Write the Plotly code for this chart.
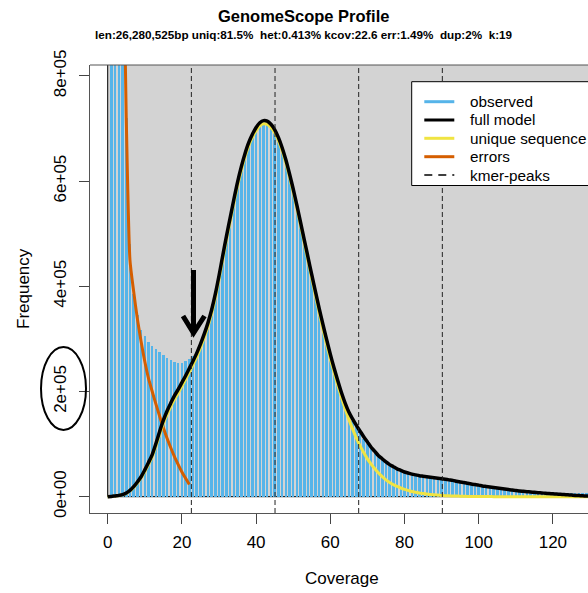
import plotly.graph_objects as go

# ---------------- data ----------------
coverage = list(range(1, 130))
observed = [2600000, 1900000, 1400000, 1000000, 720000, 480000, 385000, 345000, 317000, 305000,
            295000, 287000, 281000, 276000, 269000, 264000, 260000, 257000, 255000, 255000,
            258000, 262000, 268000, 276000, 291000, 309000, 330000, 354000, 383000, 417000,
            455000, 492000, 527000, 561000, 594000, 623000, 648000, 669000, 685000, 698000,
            706000, 710000, 709000, 703000, 693000, 678000, 659000, 636000, 609000, 580000,
            549000, 516000, 483000, 450000, 417000, 385000, 353000, 323000, 294000, 266000,
            241000, 217000, 195000, 175000, 158000, 144000, 132000, 121000, 110000, 100000,
            91000, 83000, 76000, 70000, 64000, 59000, 55000, 51000, 48000, 45000,
            43000, 41000, 40000, 38500, 37500, 36500, 35500, 34500, 33500, 32500,
            31500, 30500, 29500, 28500, 27000, 26000, 25000, 24000, 23000, 22000,
            21000, 20000, 19000, 18000, 17000, 16500, 15500, 14500, 14000, 13000,
            12500, 12000, 11500, 11000, 10500, 10000, 9500, 9000, 8500, 8000,
            7800, 7600, 7400, 7200, 7000, 6800, 6600, 6400, 6200]

model_x = list(range(0, 131))
full_model = [0, 500, 1500, 2500, 4000, 7000, 12000, 19000, 28000, 38000,
              51000, 65000, 80000, 101000, 124000, 145000, 163000, 178000, 192000, 204000,
              217000, 230000, 244000, 258000, 273000, 290000, 309000, 330000, 355000, 385000,
              420000, 458000, 495000, 530000, 565000, 598000, 627000, 652000, 673000, 689000,
              702000, 711000, 715000, 714000, 708000, 698000, 683000, 664000, 641000, 614000,
              585000, 554000, 521000, 488000, 455000, 422000, 390000, 358000, 328000, 299000,
              271000, 245000, 221000, 198000, 178000, 161000, 148000, 136000, 125000, 114000,
              104000, 94000, 86000, 78000, 72000, 66000, 61000, 57000, 53000, 50000,
              47000, 45000, 43000, 41500, 40000, 39000, 38000, 37000, 36000, 35000,
              34000, 33000, 32000, 31000, 29500, 28000, 27000, 25500, 24000, 23000,
              22000, 20500, 19500, 18500, 17500, 16500, 15500, 14500, 13500, 12700,
              12000, 11000, 10300, 9600, 9000, 8300, 7700, 7100, 6500, 6000,
              5500, 5000, 4500, 4000, 3500, 3000, 2500, 2100, 1700, 1300, 1000]
unique_seq = [0, 400, 1300, 2200, 3600, 6300, 11000, 17500, 26000, 35500,
              48000, 61000, 76000, 96000, 118000, 139000, 156000, 171000, 185000, 197000,
              210000, 223000, 237000, 251000, 266000, 283000, 302000, 323000, 348000, 378000,
              413000, 451000, 488000, 523000, 558000, 591000, 620000, 646000, 667000, 683000,
              696000, 705000, 709000, 708000, 702000, 692000, 677000, 658000, 635000, 608000,
              579000, 548000, 515000, 482000, 448000, 415000, 382000, 350000, 319000, 290000,
              262000, 237000, 212000, 189000, 167000, 147000, 129000, 112000, 97000, 84000,
              72000, 62000, 53000, 45000, 38000, 32000, 27000, 23000, 19500, 16500,
              14000, 12000, 10000, 8500, 7000, 6000, 5000, 4200, 3500, 3000,
              2500, 2000, 1700, 1400, 1200, 1000, 800, 600, 500, 400,
              300, 250, 200, 170, 140, 120, 100, 80, 70, 60,
              50, 40, 35, 30, 25, 20, 18, 16, 14, 12,
              10, 9, 8, 7, 6, 5, 4, 3, 2, 1, 0]
errors_x = list(range(4, 23))
errors = [1150000, 720000, 450000, 390000, 338000, 295000, 257000, 225000, 200000, 176000,
          153000, 131000, 111000, 93000, 76000, 61000, 47000, 35000, 23000]

kcov = 22.55
peak_multiples = [1, 2, 3, 4]

y_tickvals = [0, 200000, 400000, 600000, 800000]
y_ticktext = ["0e+00", "2e+05", "4e+05", "6e+05", "8e+05"]
x_tickvals = [0, 20, 40, 60, 80, 100, 120]

legend_labels = ["observed", "full model", "unique sequence", "errors", "kmer-peaks"]
legend_colors = ["#56B4E9", "black", "#F0E442", "#D55E00", "black"]
legend_dash = ["solid", "solid", "solid", "solid", "dash"]

title = "GenomeScope Profile"
subtitle = "len:26,280,525bp uniq:81.5%  het:0.413% kcov:22.6 err:1.49%  dup:2%  k:19"

# ---------------- layout geometry (pixels) ----------------
W, H = 588, 593
L, R, T, B = 90, 588, 65, 513          # plot region in pixels
X0PX, XSC = 107.7, 3.71                # px of x=0, px per coverage unit
Y0PX, YSC = 496.7, 52.6 / 1e5          # px of y=0, px per count

x_range = [(L - X0PX) / XSC, (R - X0PX) / XSC]
y_range = [(Y0PX - B) / YSC, (Y0PX - T) / YSC]

def px2x(p):
    return (p - X0PX) / XSC

def py2y(p):
    return (Y0PX - p) / YSC

def ppx(p):  # pixel -> paper x
    return (p - L) / (R - L)

def ppy(p):  # pixel -> paper y
    return (B - p) / (B - T)

FONT = "Liberation Sans, Arial, Helvetica, sans-serif"

fig = go.Figure()
fig.add_trace(go.Bar(x=coverage, y=observed, width=0.68, marker=dict(color="#56B4E9", line=dict(width=0)),
                     showlegend=False, hoverinfo="skip"))
fig.add_trace(go.Scatter(x=errors_x, y=errors, mode="lines",
                         line=dict(color="#D55E00", width=3, shape="spline", smoothing=0.6),
                         showlegend=False))
fig.add_trace(go.Scatter(x=model_x, y=unique_seq, mode="lines",
                         line=dict(color="#F0E442", width=3, shape="spline", smoothing=0.8),
                         showlegend=False))
fig.add_trace(go.Scatter(x=model_x, y=full_model, mode="lines",
                         line=dict(color="black", width=3.5, shape="spline", smoothing=0.8),
                         showlegend=False))

shapes = []
# gray background rectangle starting at (0,0)
shapes.append(dict(type="rect", xref="x", yref="y", x0=0, y0=0, x1=1000, y1=5e6,
                   fillcolor="#D3D3D3", line=dict(color="black", width=1), layer="below"))
# kmer peak lines
for m in peak_multiples:
    shapes.append(dict(type="line", xref="x", yref="paper", x0=kcov * m, x1=kcov * m, y0=0, y1=1,
                       line=dict(color="#222222", width=1, dash="5px,3px"), layer="above"))
# top border of plot box
shapes.append(dict(type="line", xref="paper", yref="paper", x0=0, x1=1.05, y0=1, y1=1,
                   line=dict(color="#555555", width=1)))
# legend box
leg_left, leg_top, leg_bot = 411.7, 81.7, 185.5
shapes.append(dict(type="rect", xref="paper", yref="paper", x0=ppx(leg_left), x1=1.1,
                   y0=ppy(leg_bot), y1=ppy(leg_top), fillcolor="white",
                   line=dict(color="black", width=1), layer="above"))
leg_rows = [101.7, 120.0, 138.3, 156.7, 175.0]
annotations = []
for lab, col, dsh, ry in zip(legend_labels, legend_colors, legend_dash, leg_rows):
    shapes.append(dict(type="line", xref="paper", yref="paper", x0=ppx(424.3), x1=ppx(454.3),
                       y0=ppy(ry), y1=ppy(ry),
                       line=dict(color=col, width=3 if dsh == "solid" else 1.5,
                                 dash="solid" if dsh == "solid" else "8px,6px"),
                       layer="above"))
    annotations.append(dict(text=lab, xref="paper", yref="paper", x=ppx(468), y=ppy(ry),
                            xanchor="left", yanchor="middle", showarrow=False,
                            font=dict(family=FONT, size=15.3, color="black")))
# hand-drawn ellipse around the 2e+05 label
shapes.append(dict(type="circle", xref="paper", yref="paper", x0=ppx(41), x1=ppx(86),
                   y0=ppy(430), y1=ppy(347), line=dict(color="black", width=2)))
# hand-drawn arrow
ax_ = px2x(193.5)
arrow_path = "M {a},{t} L {a},{tip} M {l},{arm} L {a},{tip} L {r},{arm}".format(
    a=ax_, t=py2y(270), tip=py2y(333), l=px2x(183), r=px2x(204.5), arm=py2y(316))
shapes.append(dict(type="path", xref="x", yref="y", path=arrow_path,
                   line=dict(color="black", width=5), layer="above"))

# titles
annotations.append(dict(text="<b>%s</b>" % title, xref="paper", yref="paper", x=ppx(303), y=ppy(16),
                        xanchor="center", yanchor="middle", showarrow=False,
                        font=dict(family=FONT, size=16.5, color="black")))
annotations.append(dict(text="<b>%s</b>" % subtitle.replace("  ", " &nbsp;"), xref="paper", yref="paper",
                        x=ppx(303.5), y=ppy(35), xanchor="center", yanchor="middle", showarrow=False,
                        font=dict(family=FONT, size=11.7, color="black")))
annotations.append(dict(text="Coverage", xref="paper", yref="paper", x=ppx(341.5), y=ppy(578),
                        xanchor="center", yanchor="middle", showarrow=False,
                        font=dict(family=FONT, size=17, color="black")))
annotations.append(dict(text="Frequency", xref="paper", yref="paper", x=ppx(23), y=ppy(289),
                        xanchor="center", yanchor="middle", showarrow=False, textangle=-90,
                        font=dict(family=FONT, size=17, color="black")))

fig.update_layout(
    width=W, height=H,
    margin=dict(l=L, r=W - R, t=T, b=H - B, pad=0),
    paper_bgcolor="white", plot_bgcolor="white",
    bargap=0, showlegend=False, hovermode=False,
    shapes=shapes, annotations=annotations,
    xaxis=dict(range=x_range, tickvals=x_tickvals, ticks="outside", ticklen=10, tickcolor="#444",
               showline=True, linecolor="#555555", linewidth=1, showgrid=False, zeroline=False,
               tickfont=dict(family=FONT, size=17, color="black"), ticklabelstandoff=4),
    yaxis=dict(range=y_range, tickvals=y_tickvals, ticktext=y_ticktext, ticks="outside", ticklen=10,
               tickcolor="#444", tickangle=-90, showline=True, linecolor="#555555", linewidth=1,
               showgrid=False, zeroline=False,
               tickfont=dict(family=FONT, size=17, color="black"), ticklabelstandoff=6),
)

fig.write_html("out.html", config={"displayModeBar": False, "staticPlot": True},
               post_script="document.body.style.margin='0px';document.body.style.overflow='hidden';")
